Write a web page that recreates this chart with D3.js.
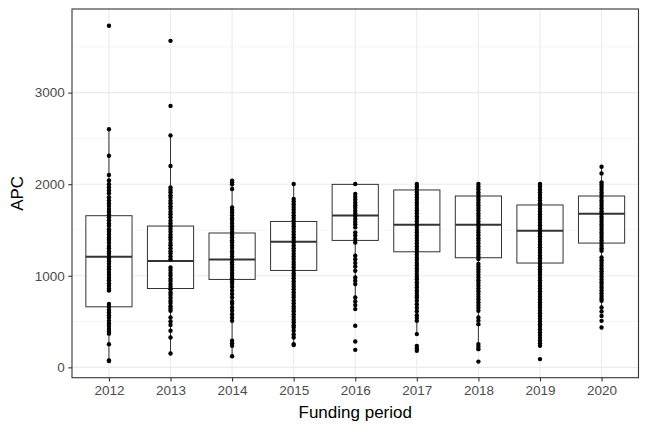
<!DOCTYPE html>
<html>
<head>
<meta charset="utf-8">
<script src="https://cdn.jsdelivr.net/npm/d3@7"></script>
<style>
  body { margin: 0; background: #fff; }
  text { font-family: "Liberation Sans", Arial, sans-serif; }
</style>
</head>
<body>
<svg id="chart"></svg>
<script>
// funding periods on the x axis
const years = ['2012', '2013', '2014', '2015', '2016', '2017', '2018', '2019', '2020'];

// box stats
const q1 = [661, 861, 960, 1058, 1386, 1262, 1197, 1139, 1357];
const median = [1208, 1161, 1178, 1372, 1659, 1557, 1557, 1492, 1678];
const q3 = [1656, 1543, 1467, 1593, 1998, 1937, 1871, 1773, 1871];
const whiskerLo = [70, 151, 122, 254, 636, 363, 199, 235, 610];
const whiskerHi = [2600, 2533, 2038, 2002, 2002, 2002, 2002, 2002, 2191];

// APC values, one list per period
const apc2012 = [3730, 2600, 2310, 2100, 2040, 2000, 1965, 1932, 1900, 1858, 1822, 1790, 1762, 1728, 1700, 1668, 1640, 1605, 1572, 1545, 1508, 1482, 1450, 1418, 1392, 1360, 1326, 1300, 1268, 1242, 1210, 1188, 1158, 1130, 1098, 1072, 1040, 1012, 978, 952, 918, 892, 860, 838, 692, 662, 628, 600, 568, 542, 508, 480, 452, 418, 392, 368, 252, 75, 70];
const apc2013 = [3565, 2855, 2533, 2198, 1965, 1938, 1912, 1878, 1852, 1818, 1792, 1760, 1732, 1698, 1672, 1640, 1602, 1570, 1542, 1510, 1482, 1448, 1420, 1392, 1358, 1332, 1300, 1268, 1242, 1210, 1180, 1090, 1062, 1030, 1002, 968, 942, 910, 880, 852, 818, 792, 760, 728, 702, 668, 640, 617, 544, 500, 462, 400, 326, 151];
const apc2014 = [2038, 2020, 2000, 1948, 1746, 1718, 1690, 1662, 1628, 1600, 1572, 1540, 1512, 1478, 1452, 1420, 1388, 1362, 1330, 1302, 1268, 1240, 1212, 1180, 1148, 1122, 1090, 1062, 1030, 1000, 972, 940, 912, 878, 836, 800, 762, 720, 694, 654, 618, 580, 542, 508, 290, 262, 235, 122];
const apc2015 = [2002, 1838, 1810, 1782, 1750, 1722, 1690, 1660, 1632, 1600, 1568, 1540, 1512, 1480, 1452, 1420, 1390, 1362, 1330, 1300, 1272, 1240, 1210, 1182, 1150, 1120, 1092, 1060, 1028, 1000, 972, 940, 910, 880, 852, 820, 790, 762, 730, 700, 668, 640, 612, 580, 550, 520, 492, 460, 435, 399, 360, 326, 254, 243];
const apc2016 = [2002, 1893, 1860, 1832, 1800, 1770, 1742, 1710, 1680, 1652, 1620, 1590, 1562, 1528, 1473, 1440, 1402, 1364, 1219, 1180, 1140, 1100, 1055, 981, 945, 909, 763, 720, 680, 636, 454, 282, 191];
const apc2017 = [2002, 1975, 1948, 1915, 1888, 1858, 1830, 1800, 1772, 1740, 1712, 1682, 1650, 1622, 1592, 1560, 1532, 1500, 1472, 1440, 1412, 1382, 1352, 1320, 1292, 1262, 1232, 1200, 1172, 1140, 1112, 1080, 1052, 1020, 990, 962, 930, 900, 872, 840, 812, 782, 763, 727, 690, 650, 612, 570, 540, 508, 363, 235, 206, 180];
const apc2018 = [2002, 1972, 1945, 1912, 1885, 1855, 1828, 1798, 1770, 1740, 1712, 1680, 1652, 1622, 1592, 1562, 1532, 1500, 1472, 1442, 1410, 1382, 1352, 1320, 1292, 1262, 1232, 1205, 1182, 1128, 1098, 1068, 1040, 1010, 980, 950, 920, 892, 860, 830, 800, 770, 740, 710, 680, 650, 617, 544, 510, 472, 254, 225, 199, 63];
const apc2019 = [2002, 1972, 1942, 1912, 1882, 1852, 1822, 1792, 1762, 1732, 1702, 1672, 1642, 1612, 1582, 1552, 1522, 1492, 1462, 1432, 1402, 1372, 1342, 1312, 1282, 1252, 1222, 1192, 1162, 1132, 1102, 1072, 1042, 1012, 982, 952, 922, 892, 862, 832, 802, 772, 742, 712, 682, 652, 622, 592, 562, 532, 502, 472, 442, 412, 382, 352, 322, 292, 262, 235, 90];
const apc2020 = [2191, 2118, 2020, 1995, 1968, 1940, 1910, 1882, 1852, 1822, 1795, 1765, 1735, 1705, 1678, 1648, 1620, 1590, 1560, 1532, 1502, 1472, 1445, 1415, 1385, 1358, 1328, 1300, 1273, 1200, 1170, 1140, 1110, 1080, 1050, 1020, 990, 960, 930, 900, 870, 840, 810, 780, 752, 727, 654, 610, 560, 508, 435];

const apcByYear = [apc2012, apc2013, apc2014, apc2015, apc2016, apc2017, apc2018, apc2019, apc2020];

const yTicks = [0, 1000, 2000, 3000];
const yMinor = [500, 1500, 2500, 3500];

const w = 648, h = 432;
const panel = { left: 72, right: 638.5, top: 9, bottom: 377.7 };

const svg = d3.select('#chart').attr('width', w).attr('height', h);

const x_scale = d3.scalePoint().domain(years).range([panel.left, panel.right]).padding(0.6);
const y_scale = d3.scaleLinear().domain([-113, 3913]).range([panel.bottom, panel.top]);
const boxW = x_scale.step() * 0.75;

// grid
const grid = svg.append('g');
grid.selectAll('.minor').data(yMinor).join('line')
  .attr('x1', panel.left).attr('x2', panel.right)
  .attr('y1', d => y_scale(d)).attr('y2', d => y_scale(d))
  .attr('stroke', '#f2f2f2').attr('stroke-width', 0.8);
grid.selectAll('.majorY').data(yTicks).join('line')
  .attr('x1', panel.left).attr('x2', panel.right)
  .attr('y1', d => y_scale(d)).attr('y2', d => y_scale(d))
  .attr('stroke', '#ebebeb').attr('stroke-width', 1.1);
grid.selectAll('.majorX').data(years).join('line')
  .attr('x1', d => x_scale(d)).attr('x2', d => x_scale(d))
  .attr('y1', panel.top).attr('y2', panel.bottom)
  .attr('stroke', '#ebebeb').attr('stroke-width', 1.1);

// boxes
const boxes = svg.append('g').selectAll('g').data(years).join('g');
boxes.append('line')
  .attr('x1', d => x_scale(d)).attr('x2', d => x_scale(d))
  .attr('y1', (d, i) => y_scale(whiskerHi[i])).attr('y2', (d, i) => y_scale(q3[i]))
  .attr('stroke', '#333333').attr('stroke-width', 1);
boxes.append('line')
  .attr('x1', d => x_scale(d)).attr('x2', d => x_scale(d))
  .attr('y1', (d, i) => y_scale(q1[i])).attr('y2', (d, i) => y_scale(whiskerLo[i]))
  .attr('stroke', '#333333').attr('stroke-width', 1);
boxes.append('rect')
  .attr('x', d => x_scale(d) - boxW / 2)
  .attr('y', (d, i) => y_scale(q3[i]))
  .attr('width', boxW)
  .attr('height', (d, i) => y_scale(q1[i]) - y_scale(q3[i]))
  .attr('fill', 'white').attr('stroke', '#333333').attr('stroke-width', 1);
boxes.append('line')
  .attr('x1', d => x_scale(d) - boxW / 2).attr('x2', d => x_scale(d) + boxW / 2)
  .attr('y1', (d, i) => y_scale(median[i])).attr('y2', (d, i) => y_scale(median[i]))
  .attr('stroke', '#333333').attr('stroke-width', 2);

// points
const pts = years.flatMap((yr, i) => apcByYear[i].map(v => ({ yr, v })));
svg.append('g').selectAll('circle').data(pts).join('circle')
  .attr('cx', d => x_scale(d.yr))
  .attr('cy', d => y_scale(d.v))
  .attr('r', 2.2)
  .attr('fill', 'black');

// panel border
svg.append('rect')
  .attr('x', panel.left).attr('y', panel.top)
  .attr('width', panel.right - panel.left).attr('height', panel.bottom - panel.top)
  .attr('fill', 'none').attr('stroke', '#333333').attr('stroke-width', 1.1);

// axes
const xAxis = svg.append('g')
  .attr('transform', `translate(0, ${panel.bottom})`)
  .call(d3.axisBottom(x_scale).tickSize(3.7).tickPadding(4.5));
const yAxis = svg.append('g')
  .attr('transform', `translate(${panel.left}, 0)`)
  .call(d3.axisLeft(y_scale).tickValues(yTicks).tickFormat(d3.format('d')).tickSize(3.7).tickPadding(3.5));
[xAxis, yAxis].forEach(ax => {
  ax.select('.domain').remove();
  ax.selectAll('line').attr('stroke', '#333333').attr('stroke-width', 1.1);
  ax.selectAll('text').attr('fill', '#4d4d4d').attr('font-size', 13.5)
    .attr('font-family', '"Liberation Sans", Arial, sans-serif');
});

svg.append('text')
  .attr('x', (panel.left + panel.right) / 2).attr('y', 418)
  .attr('text-anchor', 'middle').attr('font-size', 17).attr('fill', 'black')
  .text('Funding period');

svg.append('text')
  .attr('transform', `translate(23, ${(panel.top + panel.bottom) / 2}) rotate(-90)`)
  .attr('text-anchor', 'middle').attr('font-size', 17).attr('fill', 'black')
  .text('APC');
</script>
</body>
</html>
